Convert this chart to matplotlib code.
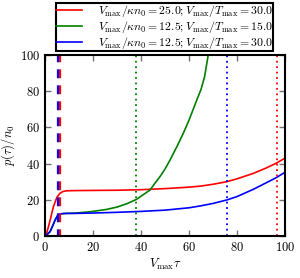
import numpy as np
import matplotlib
matplotlib.use('Agg')
import matplotlib.pyplot as plt

plt.rcParams['font.family'] = 'serif'
plt.rcParams['font.serif'] = ['cmr10', 'DejaVu Serif']
plt.rcParams['mathtext.fontset'] = 'cm'
plt.rcParams['axes.formatter.use_mathtext'] = True
plt.rcParams['font.size'] = 9

# valores
tau_r = [0, 0.7, 2, 3.5, 5, 6.25, 7.5, 9, 12, 20, 30, 40, 50, 60, 65, 70, 75.7, 80, 86.8, 92, 96, 100]
p_r = [0, 1.6, 8, 16.2, 21.5, 23.6, 24.6, 25, 25.1, 25.2, 25.3, 25.6, 26.2, 27, 27.6, 28.6, 30, 31.6, 34.6, 37.5, 40, 43]
tau_b = [0, 1, 2.1, 3, 4.2, 5.2, 6.25, 7.5, 9, 12, 20, 30, 40, 50, 60, 64.6, 70, 75.7, 80, 86.8, 92, 96, 100]
p_b = [0, 1, 2.4, 5, 8.8, 11.2, 12.2, 12.4, 12.5, 12.5, 12.7, 13.1, 13.6, 14.3, 15.6, 16.6, 18, 19.9, 21.8, 25.8, 29.3, 32, 35.2]
tau_g = [0, 1, 2.1, 3, 4.2, 5.2, 6.25, 7.5, 9, 12, 18.75, 25.7, 30, 34, 38.2, 40, 43.75, 46, 47.9, 50, 52.1,
         55, 57.6, 60, 63.2, 65, 66.5, 68, 70]
p_g = [0, 1, 2.4, 5, 8.8, 11.2, 12.2, 12.4, 12.5, 12.6, 13.4, 14.7, 16, 17.8, 20.3, 22, 25.4, 29.5, 32.8, 37, 42,
       49.5, 56.7, 64, 75, 81, 88, 100, 110]

tau_crit = [6.1, 5.3]            # lineas discontinuas (rojo, azul)
tau_dot = [96.5, 37.9, 75.8]     # lineas punteadas (rojo, verde, azul)

labels = [r'$V_{\rm max}/\kappa n_0 = 25.0; V_{\rm max}/T_{\rm max} = 30.0$',
          r'$V_{\rm max}/\kappa n_0 = 12.5; V_{\rm max}/T_{\rm max} = 15.0$',
          r'$V_{\rm max}/\kappa n_0 = 12.5; V_{\rm max}/T_{\rm max} = 30.0$']
colores = ['red', 'green', 'blue']

fig = plt.figure(figsize=(3.0, 2.78), dpi=100)
ax = fig.add_axes([0.15, 0.151, 0.80, 0.651])

lineas = []
for t, p, c, lab in zip([tau_r, tau_g, tau_b], [p_r, p_g, p_b], colores, labels):
    l, = ax.plot(t, p, color=c, lw=1.2, label=lab)
    lineas.append(l)

# lineas verticales
ax.axvline(tau_crit[0], color='red', lw=1.6, linestyle=(1, (4, 3.2)))
ax.axvline(tau_crit[1], color='blue', lw=1.6, linestyle=(1, (4, 3.2)))
for xv, c in zip(tau_dot, colores):
    ax.axvline(xv, color=c, lw=1.3, linestyle=(0, (1, 2)))

ax.set_xlim(0, 100)
ax.set_ylim(0, 100)
ax.set_xticks([0, 20, 40, 60, 80, 100])
ax.set_yticks([0, 20, 40, 60, 80, 100])
ax.tick_params(direction='in', top=True, right=True, length=4, width=1, color='0.45')
for s in ax.spines.values():
    s.set_linewidth(1.5)
ax.set_xlabel(r'$V_{\rm max}\tau$', labelpad=2)
ax.set_ylabel(r'$p(\tau)/n_0$', labelpad=2)

leg = fig.legend(handles=lineas, loc='upper center', bbox_to_anchor=(0.548, 0.99),
                 fancybox=False, edgecolor='black', framealpha=1, fontsize=8.5,
                 handlelength=2.2, borderpad=0.0, labelspacing=0.0, handletextpad=1.3,
                 borderaxespad=0.0)
leg.get_frame().set_linewidth(1.5)

fig.savefig('out.png', dpi=100)
